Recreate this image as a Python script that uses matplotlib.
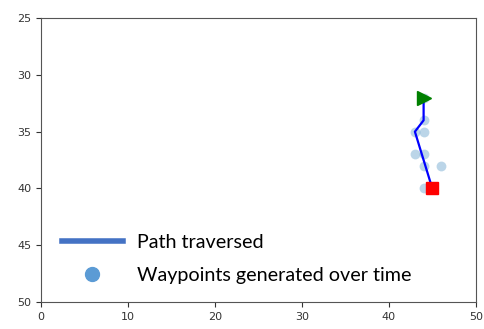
import matplotlib
matplotlib.use("Agg")
from matplotlib import pyplot as plt
from matplotlib.lines import Line2D

# path actually driven (x, y)
path_x = [45, 43, 44, 44]
path_y = [40, 35, 34, 32]

# waypoints produced along the way
wp_x = [44, 43, 44, 43, 44, 44, 46, 44, 44]
wp_y = [34, 35, 35, 37, 37, 38, 38, 40, 32]

start = (45, 40)
goal = (44, 32)

fig = plt.figure(figsize=(4.85, 3.29), dpi=100)
ax = fig.add_axes([0.0845, 0.082, 0.8965, 0.863])

ax.scatter(wp_x, wp_y, s=50, color="#1f77b4", alpha=0.3, linewidths=0, zorder=2)
ax.plot(path_x, path_y, color="blue", lw=1.6, zorder=3)
ax.plot(*start, marker="s", color="red", ms=8.5, zorder=4)
ax.plot(*goal, marker=">", color="green", ms=10, zorder=4)

ax.set_xlim(0, 50)
ax.set_ylim(50, 25)
ax.tick_params(labelsize=8, colors="#333333")
for s in ax.spines.values():
    s.set_color("#555555")

handles = [
    Line2D([], [], color="#4472c4", lw=4),
    Line2D([], [], color="#5b9bd5", marker="o", ls="none", ms=10),
]
ax.legend(handles, ["Path traversed", "Waypoints generated over time"],
          loc="lower left", bbox_to_anchor=(0.048, 0.063), frameon=False,
          prop={"family": "Lato", "size": 14.2}, handlelength=3.1,
          handletextpad=0.7, labelspacing=0.8, borderpad=0, borderaxespad=0)

fig.savefig("out.png", dpi=100)
